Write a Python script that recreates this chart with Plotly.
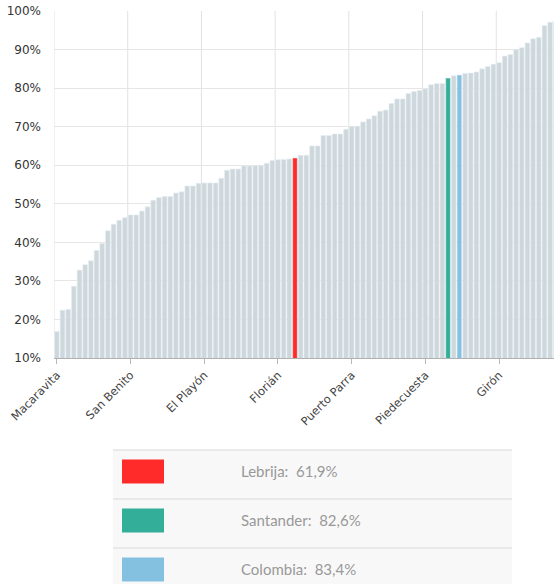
import plotly.graph_objects as go
import numpy as np

# bar values (%), sorted ascending, one per municipality + Santander + Colombia
values = [16.9, 22.4, 22.6, 28.6, 32.8, 34.2, 35.2, 37.9, 39.7, 43.0,
          44.7, 45.7, 46.4, 47.1, 47.1, 48.1, 49.2, 50.9, 51.6, 51.9,
          51.9, 52.8, 53.1, 54.6, 54.6, 55.3, 55.4, 55.4, 55.4, 56.6,
          58.7, 59.0, 59.0, 59.8, 59.8, 59.9, 59.9, 60.5, 61.2, 61.4,
          61.5, 61.6, 61.9, 62.6, 62.6, 65.0, 65.0, 67.7, 67.7, 68.1,
          68.1, 69.3, 70.1, 70.1, 71.2, 72.0, 72.8, 74.0, 74.3, 76.0,
          77.2, 77.2, 78.6, 79.1, 79.4, 79.8, 80.9, 81.2, 81.2, 82.6,
          83.2, 83.4, 83.8, 83.9, 84.2, 85.0, 85.6, 86.2, 86.6, 88.3,
          88.7, 90.0, 90.5, 91.7, 92.8, 93.2, 96.2, 97.1, 97.3]

tick_labels = ["Macaravita", "San Benito", "El Playón", "Florián",
               "Puerto Parra", "Piedecuesta", "Girón"]
tick_index = [0, 13, 26, 39, 52, 65, 78]

highlight_names = ["Lebrija", "Santander", "Colombia"]
highlight_index = [42, 69, 71]
highlight_values = ["61,9%", "82,6%", "83,4%"]
highlight_colors = ["#ff2b2b", "#33ae99", "#84c1e1"]

base_color = "#ced7db"

x = np.arange(len(values))
colors = [base_color] * len(values)
for i, c in zip(highlight_index, highlight_colors):
    colors[i] = c

fig = go.Figure()
fig.add_trace(go.Bar(
    x=x, y=values,
    marker=dict(color=colors, line=dict(color="#e4eef3", width=0.6)),
    hoverinfo="y", showlegend=False
))

# vertical grid lines sit on category boundaries, ticks on centres
for t in tick_index:
    fig.add_shape(type="line", xref="x", yref="paper", x0=t - 0.5, x1=t - 0.5,
                  y0=0, y1=1, line=dict(color="#e2e2e2", width=1), layer="below")

W, H = 500, 347
L, T = 54, 11
FW, FH = 554, 584

# legend table under the chart (pixel -> paper helpers)
def px(v): return (v - L) / W
def py(v): return (T + H - v) / H

rows_top = [450, 499, 548]
for k, (name, val, col) in enumerate(zip(highlight_names, highlight_values, highlight_colors)):
    top = rows_top[k]
    bot = top + 49
    fig.add_shape(type="rect", xref="paper", yref="paper",
                  x0=px(113), x1=px(512), y0=py(bot), y1=py(top),
                  fillcolor="#f8f8f8", line=dict(width=0), layer="below")
    fig.add_shape(type="line", xref="paper", yref="paper",
                  x0=px(113), x1=px(512), y0=py(top), y1=py(top),
                  line=dict(color="#e4e4e4", width=1.5))
    fig.add_shape(type="rect", xref="paper", yref="paper",
                  x0=px(122), x1=px(164), y0=py(top + 33.5), y1=py(top + 9.5),
                  fillcolor=col, line=dict(width=0))
    fig.add_annotation(xref="paper", yref="paper", x=px(239), y=py(top + 21),
                       text=name + ":\u00a0 " + val, showarrow=False,
                       xanchor="left", yanchor="middle",
                       font=dict(family="Lato", size=15, color="#999999"))

fig.update_layout(
    width=FW, height=FH,
    margin=dict(l=L, r=FW - L - W, t=T, b=FH - T - H, pad=0),
    plot_bgcolor="white", paper_bgcolor="white",
    bargap=0.17,
    font=dict(family="DejaVu Sans", size=12, color="#444444"),
)
fig.update_xaxes(
    range=[-0.5, -0.5 + W / 5.67], automargin=False, ticklabeloverflow="allow",
    tickmode="array", tickvals=tick_index, ticktext=tick_labels,
    tickangle=-45, showgrid=False, zeroline=False,
    ticks="outside", ticklen=5, tickcolor="#b8b8b8",
    showline=True, linecolor="#b0b0b0", linewidth=1,
    tickfont=dict(family="DejaVu Sans", size=11.5, color="#444444"),
)
fig.update_yaxes(
    range=[10, 100], dtick=10, tick0=10, automargin=False, ticklabeloverflow="allow",
    ticksuffix="%", showgrid=True, gridcolor="#e6e6e6", gridwidth=1,
    zeroline=False, showline=False, ticklabelstandoff=12,
    tickfont=dict(family="DejaVu Sans", size=12, color="#333333"),
)

# drop the default 8px body margin so the figure fills the window
fig.write_html("out.html", config={"displayModeBar": False},
               post_script="document.body.style.margin='0px';")
